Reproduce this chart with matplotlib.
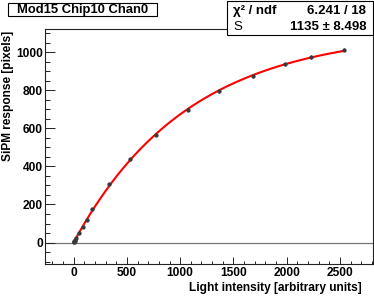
import numpy as np
import matplotlib
matplotlib.use("Agg")
import matplotlib.pyplot as plt
from matplotlib.patches import Rectangle
from matplotlib.ticker import MultipleLocator

plt.rcParams['font.family'] = ['Liberation Sans', 'DejaVu Sans']

# ---- data ----
light = [0, 2, 5, 9, 14, 24, 55, 90, 122, 175, 330, 533, 771, 1076, 1366, 1680, 1986, 2229, 2541]
response = [1, 3, 6, 9, 15, 24, 48, 83, 117, 176, 307, 439, 565, 699, 794, 874, 937, 975, 1014]
response_err = [2, 2, 2, 2, 3, 3, 4, 4, 5, 5, 6, 6, 7, 7, 7, 8, 8, 8, 8]

title_text = "Mod15 Chip10 Chan0"
chi2_label = "χ² / ndf"
chi2_value = "6.241 / 18"
par_label = "S"
par_value = "1135 ± 8.498"
xlabel = "Light intensity [arbitrary units]"
ylabel = "SiPM response [pixels]"

x = np.array(light, dtype=float)
y = np.array(response, dtype=float)
e = np.array(response_err, dtype=float)

# saturation fit A*(1-exp(-x/B)) by grid search
best = None
for A in np.arange(1000, 1400, 2.0):
    for B in np.arange(800, 1500, 2.0):
        r = np.sum(((y - A * (1 - np.exp(-x / B))) / e) ** 2)
        if best is None or r < best[0]:
            best = (r, A, B)
_, A, B = best

W, H = 374, 298
fig = plt.figure(figsize=(W / 100, H / 100), dpi=100)
ax = fig.add_axes([45 / W, 1 - 263.5 / H, (372.7 - 45) / W, (263.5 - 29) / H])

ax.set_xlim(-268, 2806)
ax.set_ylim(-110, 1122)

ax.axhline(0, color='#777777', lw=0.9, zorder=1)

xs = np.linspace(0, x.max(), 400)
ax.plot(xs, A * (1 - np.exp(-xs / B)), color='red', lw=1.5, zorder=2)
ax.errorbar(x, y, yerr=e, fmt='o', ms=2.1, color='#3a3a3a', ecolor='#3a3a3a',
            elinewidth=0.8, capsize=0, zorder=3)

for s in ax.spines.values():
    s.set_color('#222222')
    s.set_linewidth(0.8)

ax.xaxis.set_major_locator(MultipleLocator(500))
ax.xaxis.set_minor_locator(MultipleLocator(100))
ax.yaxis.set_major_locator(MultipleLocator(200))
ax.yaxis.set_minor_locator(MultipleLocator(50))
ax.tick_params(axis='both', which='both', direction='in', color='#222222', width=0.7,
               top=False, right=False)
ax.tick_params(axis='y', which='major', length=7.2, pad=1.5)
ax.tick_params(axis='y', which='minor', length=3.4)
ax.tick_params(axis='x', which='major', length=4.8, pad=2.5)
ax.tick_params(axis='x', which='minor', length=2.4)
for lab in ax.get_xticklabels() + ax.get_yticklabels():
    lab.set_fontweight('bold')
    lab.set_fontsize(8.6)

fig.text(362 / W, 1 - 288 / H, xlabel, ha='right', va='center',
         fontsize=8.6, fontweight='bold')
fig.text(8 / W, 1 - 31 / H, ylabel, ha='center', va='top', rotation=90,
         fontsize=8.6, fontweight='bold')

# title box
fig.patches.append(Rectangle((8.3 / W, 1 - 15.7 / H), (156.7 - 8.3) / W, 12.2 / H,
                             transform=fig.transFigure, fill=True, facecolor='white',
                             edgecolor='black', lw=0.8))
fig.text(82.5 / W, 1 - 9.6 / H, title_text, ha='center', va='center',
         fontsize=9.4, fontweight='bold')

# stats box
fig.patches.append(Rectangle((226.7 / W, 1 - 35 / H), (372.7 - 226.7) / W, 34.5 / H,
                             transform=fig.transFigure, fill=True, facecolor='white',
                             edgecolor='black', lw=0.8, zorder=5))
fig.text(233 / W, 1 - 11 / H, chi2_label, ha='left', va='center', fontsize=9.5,
         fontweight='bold', zorder=6)
fig.text(366 / W, 1 - 11 / H, chi2_value, ha='right', va='center', fontsize=9.5,
         fontweight='bold', zorder=6)
fig.text(233 / W, 1 - 27 / H, par_label, ha='left', va='center', fontsize=9.5,
         zorder=6)
fig.text(366 / W, 1 - 27 / H, par_value, ha='right', va='center', fontsize=9.5,
         fontweight='bold', zorder=6)

fig.savefig("out.png", dpi=100)
